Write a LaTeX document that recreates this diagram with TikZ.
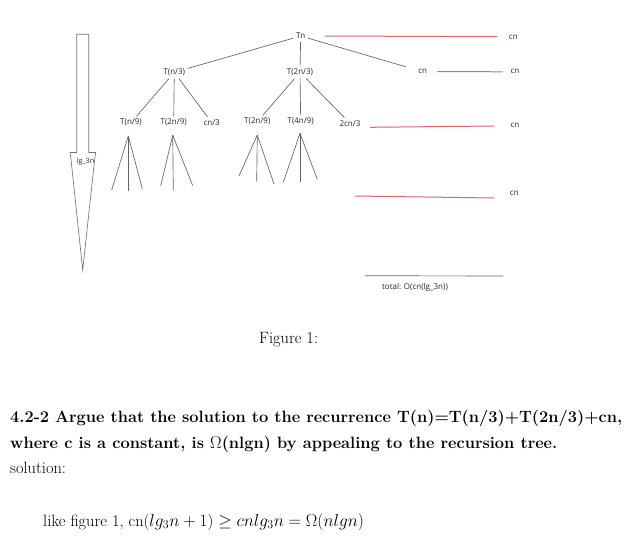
\documentclass[tikz,border=0pt]{standalone}
\usepackage{fontspec}
\newfontfamily\paint{Open Sans}
\definecolor{paintred}{RGB}{220,100,112}
\begin{document}
\begin{tikzpicture}[x=1pt,y=-1pt,
  lbl/.style={font=\paint\fontsize{8}{9}\selectfont, text=black!85, inner sep=2.3pt, outer sep=0.5pt},
  edge/.style={draw=black!62, line width=0.65pt},
  redline/.style={draw=paintred, line width=1pt},
  arrowbox/.style={draw=black!55, line width=0.65pt},
  body/.style={font=\fontsize{16.4}{20}\selectfont, inner sep=0pt, anchor=base west}
]
\useasboundingbox (0,0) rectangle (638,542);

% big arrow
\draw[arrowbox] (76.7,34.3) -- (88.7,34.3) -- (88.7,152.5) -- (95.7,152.5) -- (94.7,159.3)
  -- (82.7,270) -- (71,159.3) -- (70,152.5) -- (76.7,152.5) -- cycle;
\node[lbl, font=\paint\fontsize{7.2}{8}\selectfont] (depth) at (85.5,162) {lg\_3n};

% tree nodes
\node[lbl] (Tn)   at (300.7,36)  {Tn};
\node[lbl] (A)    at (174.3,72.3) {T(n/3)};
\node[lbl] (B)    at (300,72.3)  {T(2n/3)};
\node[lbl] (C)    at (422.7,71.7) {cn};
\node[lbl] (A1)   at (131,122.7) {T(n/9)};
\node[lbl] (A2)   at (173.7,122.7) {T(2n/9)};
\node[lbl] (A3)   at (211.7,122.7) {cn/3};
\node[lbl] (B1)   at (257.3,121.7) {T(2n/9)};
\node[lbl] (B2)   at (300.7,121.7) {T(4n/9)};
\node[lbl] (B3)   at (350,123.3) {2cn/3};

\draw[edge] (Tn) -- (A);
\draw[edge] (Tn) -- (B);
\draw[edge, shorten >=10pt] (Tn) -- (C);
\draw[edge] (A) -- (A1);
\draw[edge] (A) -- (A2);
\draw[edge] (A) -- (A3);
\draw[edge] (B) -- (B1);
\draw[edge] (B) -- (B2);
\draw[edge] (B) -- (B3);

% leaf fans
\coordinate (f1) at (128.3,136);
\coordinate (f1a) at (111.7,190); \coordinate (f1b) at (128.3,190.7); \coordinate (f1c) at (142.3,189);
\coordinate (f2) at (172.7,135);
\coordinate (f2a) at (160.7,186); \coordinate (f2b) at (173.3,190); \coordinate (f2c) at (192.7,185.7);
\coordinate (f3) at (257.3,135);
\coordinate (f3a) at (239,176); \coordinate (f3b) at (256.7,181.7); \coordinate (f3c) at (274,184);
\coordinate (f4) at (300,133.3);
\coordinate (f4a) at (283.3,182.3); \coordinate (f4b) at (300,181.7); \coordinate (f4c) at (317.3,179.3);
\foreach \f in {f1,f2,f3,f4}{
  \draw[edge] (\f) -- (\f a);
  \draw[edge] (\f) -- (\f b);
  \draw[edge] (\f) -- (\f c);
}

% level sums
\node[lbl] (s1) at (513.3,37.3) {cn};
\node[lbl] (s2) at (515,71) {cn};
\node[lbl] (s3) at (515,125) {cn};
\node[lbl] (s4) at (514.3,193.3) {cn};
\coordinate (r1a) at (325,36);   \coordinate (r1b) at (497.3,36.7);
\coordinate (r2a) at (437.3,71.5); \coordinate (r2b) at (502.7,71.8);
\coordinate (r3a) at (370,127.3);\coordinate (r3b) at (494,126);
\coordinate (r4a) at (355,196);  \coordinate (r4b) at (494,198);
\draw[redline] (r1a) -- (r1b);
\draw[redline] (r2a) -- (r2b);
\draw[redline] (r3a) -- (r3b);
\draw[redline] (r4a) -- (r4b);

\coordinate (ta) at (365,275.7); \coordinate (tb) at (503.3,276);
\draw[edge] (ta) -- (tb);
\node[lbl] (total) at (415,287.5) {total: O(cn(lg\_3n))};

% caption and text
\node[body] (cap) at (259,343) {Figure 1:};
\node[body] (q1) at (10,422.5) {\hbox to 612pt{\bfseries 4.2-2 Argue that the solution to the recurrence T(n)=T(n/3)+T(2n/3)+cn,}};
\node[body] (q2) at (10,448) {\bfseries where c is a constant, is $\Omega$(nlgn) by appealing to the recursion tree.};
\node[body] (sol) at (10,473.5) {solution:};
\node[body] (ans) at (43,526) {like figure 1, cn($lg_3n+1$) $\geq cnlg_3n=\Omega(nlgn)$};
\end{tikzpicture}
\end{document}
